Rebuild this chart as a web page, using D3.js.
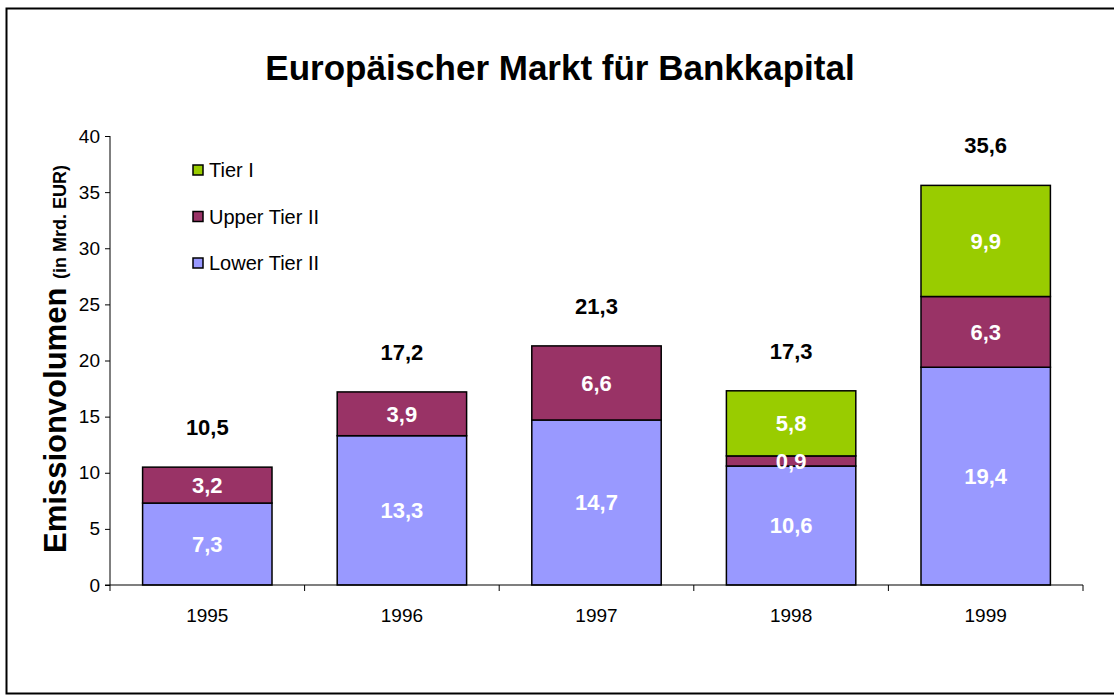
<!DOCTYPE html>
<html>
<head>
<meta charset="utf-8">
<script src="https://cdn.jsdelivr.net/npm/d3@7"></script>
<style>
  body { margin: 0; background: #fff; }
  svg { font-family: "Liberation Sans", Arial, sans-serif; }
</style>
</head>
<body>
<svg></svg>
<script>
var years = ["1995", "1996", "1997", "1998", "1999"];
var lowerTier2 = [7.3, 13.3, 14.7, 10.6, 19.4];
var upperTier2 = [3.2, 3.9, 6.6, 0.9, 6.3];
var tier1 = [0, 0, 0, 5.8, 9.9];
var totals = [10.5, 17.2, 21.3, 17.3, 35.6];
var seriesNames = ["Lower Tier II", "Upper Tier II", "Tier I"];
var seriesColors = ["#9999ff", "#993366", "#99cc00"];
var yTicks = [0, 5, 10, 15, 20, 25, 30, 35, 40];

function fmt(v) { return String(v.toFixed(1)).replace(".", ","); }

function main() {
  var width = 1114, height = 696;
  var left = 110, right = 1083, top = 136, bottom = 585;

  var svg = d3.select("svg").attr("width", width).attr("height", height);

  // frame
  svg.append("rect")
    .attr("x", 6.5).attr("y", 8.5)
    .attr("width", 1120).attr("height", 685)
    .attr("fill", "none").attr("stroke", "#000").attr("stroke-width", 2);

  svg.append("text")
    .attr("x", 560).attr("y", 80)
    .attr("text-anchor", "middle")
    .attr("font-size", 35).attr("font-weight", "bold")
    .text("Europäischer Markt für Bankkapital");

  var x = d3.scaleBand().domain(years).range([left, right])
    .paddingInner(0.335).paddingOuter(0.1675);
  var y = d3.scaleLinear().domain([0, 40]).range([bottom, top]);

  var rows = years.map(function(yr, i) {
    return { year: yr, "Lower Tier II": lowerTier2[i], "Upper Tier II": upperTier2[i], "Tier I": tier1[i], total: totals[i] };
  });
  var stacked = d3.stack().keys(seriesNames)(rows);

  // y axis
  var yAxis = svg.append("g")
    .attr("transform", "translate(" + left + ",0)")
    .call(d3.axisLeft(y).tickValues(yTicks).tickSize(5).tickPadding(5).tickFormat(d3.format("d")));
  yAxis.select(".domain").attr("d", "M0," + top + "V" + bottom);
  yAxis.selectAll("text").attr("font-size", 19).attr("fill", "#000").attr("font-family", "Liberation Sans, Arial, sans-serif");
  yAxis.selectAll("line, path").attr("stroke", "#000");

  // bars
  var groups = svg.append("g").selectAll("g")
    .data(stacked).enter().append("g")
    .attr("fill", function(d, i) { return seriesColors[i]; });

  groups.selectAll("rect")
    .data(function(d) { return d.filter(function(s) { return s[1] - s[0] > 0; }); })
    .enter().append("rect")
    .attr("x", function(d) { return x(d.data.year); })
    .attr("width", x.bandwidth())
    .attr("y", function(d) { return y(d[1]); })
    .attr("height", function(d) { return y(d[0]) - y(d[1]); })
    .attr("stroke", "#000").attr("stroke-width", 1.5);

  // segment labels on top of all bars
  var segs = [];
  stacked.forEach(function(s) {
    s.forEach(function(p) { if (p[1] - p[0] > 0) segs.push(p); });
  });
  svg.append("g").selectAll("text")
    .data(segs).enter().append("text")
    .attr("x", function(d) { return x(d.data.year) + x.bandwidth() / 2; })
    .attr("y", function(d) { return (y(d[0]) + y(d[1])) / 2; })
    .attr("dy", "0.36em")
    .attr("text-anchor", "middle")
    .attr("fill", "#fff").attr("font-size", 22).attr("font-weight", "bold")
    .text(function(d) { return fmt(d[1] - d[0]); });

  // totals
  svg.append("g").selectAll("text")
    .data(rows).enter().append("text")
    .attr("x", function(d) { return x(d.year) + x.bandwidth() / 2; })
    .attr("y", function(d) { return y(d.total) - 40; })
    .attr("dy", "0.36em")
    .attr("text-anchor", "middle")
    .attr("font-size", 22).attr("font-weight", "bold")
    .text(function(d) { return fmt(d.total); });

  // x axis
  var xAxis = svg.append("g")
    .attr("transform", "translate(0," + bottom + ")");
  xAxis.append("line")
    .attr("x1", left - 5).attr("x2", right)
    .attr("stroke", "#000").attr("stroke-width", 1.2);
  var bounds = years.map(function(yr) { return x(yr) - x.step() * x.paddingInner() / 2; });
  bounds.push(right);
  xAxis.selectAll(".tk").data(bounds).enter().append("line")
    .attr("x1", function(d) { return d; }).attr("x2", function(d) { return d; })
    .attr("y1", 0).attr("y2", 6)
    .attr("stroke", "#000");
  xAxis.selectAll("text").data(years).enter().append("text")
    .attr("x", function(d) { return x(d) + x.bandwidth() / 2; })
    .attr("y", 37)
    .attr("text-anchor", "middle")
    .attr("font-size", 19)
    .text(function(d) { return d; });

  // y label
  var yl = svg.append("text")
    .attr("transform", "translate(66,359) rotate(-90)")
    .attr("text-anchor", "middle")
    .attr("font-weight", "bold");
  yl.append("tspan").attr("font-size", 31).text("Emissionvolumen ");
  yl.append("tspan").attr("font-size", 18).text("(in Mrd. EUR)");

  // legend
  var legendOrder = [2, 1, 0];
  var leg = svg.append("g").selectAll("g")
    .data(legendOrder).enter().append("g")
    .attr("transform", function(d, i) { return "translate(193," + (170 + i * 46.5) + ")"; });
  leg.append("rect")
    .attr("x", 0).attr("y", -5).attr("width", 10).attr("height", 10)
    .attr("fill", function(d) { return seriesColors[d]; })
    .attr("stroke", "#000").attr("stroke-width", 1.5);
  leg.append("text")
    .attr("x", 16).attr("y", 0).attr("dy", "0.36em")
    .attr("font-size", 20)
    .text(function(d) { return seriesNames[d]; });
}

main();
</script>
</body>
</html>
